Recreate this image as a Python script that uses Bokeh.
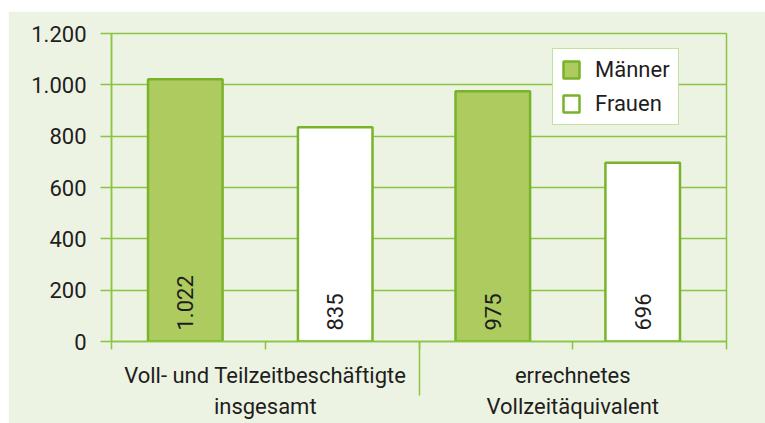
import math
from bokeh.plotting import figure
from bokeh.models import FixedTicker, ColumnDataSource, Range1d, Legend, LegendItem
from bokeh.core.properties import value
from bokeh.embed import file_html
from bokeh.resources import INLINE

# ---- data ----
categories = ["Voll- und Teilzeitbeschäftigte\ninsgesamt", "errechnetes\nVollzeitäquivalent"]
series = ["Männer", "Frauen"]
maenner = [1022, 975]
frauen = [835, 696]
maenner_labels = ["1.022", "975"]
frauen_labels = ["835", "696"]
y_ticks = [0, 200, 400, 600, 800, 1000, 1200]
y_tick_labels = ["0", "200", "400", "600", "800", "1.000", "1.200"]

FONT = "Roboto"
GREEN = "#78b32a"
GRID = "#8cc443"
FILL_M = "#adcb5f"
BG = "#edf3e2"
TXT = "#1e1e1e"

n = len(categories)
group_centers = [2 * i + 1 for i in range(n)]
x_m = [c - 0.52 for c in group_centers]
x_f = [c + 0.455 for c in group_centers]
bar_w = 0.485

p = figure(width=757, height=412, output_backend="svg", toolbar_location=None,
           x_range=Range1d(0, 2 * n), y_range=Range1d(0, 1200),
           min_border_left=103, min_border_right=39, min_border_top=22, min_border_bottom=82)
p.margin = (11, 0, 0, 8)
p.background_fill_color = BG
p.border_fill_color = BG
p.outline_line_color = GRID
p.outline_line_width = 1.5

src_m = ColumnDataSource(dict(x=x_m, top=maenner, lab=maenner_labels))
src_f = ColumnDataSource(dict(x=x_f, top=frauen, lab=frauen_labels))

r_m = p.vbar(x="x", top="top", width=bar_w, bottom=0, source=src_m,
             fill_color=FILL_M, line_color=GREEN, line_width=2.5)
r_f = p.vbar(x="x", top="top", width=bar_w, bottom=0, source=src_f,
             fill_color="white", line_color=GREEN, line_width=2.5)

for src in (src_m, src_f):
    p.text(x="x", y=0, text="lab", source=src, angle=math.pi / 2,
           text_align="left", text_baseline="middle", y_offset=-11,
           text_font=value(FONT), text_font_size="22px", text_color=TXT)

# axes
ticks_x = list(range(0, 2 * n + 1))
overrides = {t: "" for t in ticks_x}
for i, c in enumerate(categories):
    overrides[group_centers[i]] = c
seps = [2 * i for i in range(1, n)]

xa = p.xaxis[0]
xa.ticker = FixedTicker(ticks=ticks_x, minor_ticks=seps)
xa.major_label_overrides = overrides
xa.axis_line_color = GRID
xa.axis_line_width = 1.5
xa.major_tick_line_color = GRID
xa.major_tick_line_width = 1.5
xa.major_tick_in = 0
xa.major_tick_out = 8
xa.minor_tick_line_color = GRID
xa.minor_tick_line_width = 1.5
xa.minor_tick_in = 0
xa.minor_tick_out = 54
xa.major_label_standoff = -33
xa.major_label_text_font = FONT
xa.major_label_text_font_size = "22px"
xa.major_label_text_line_height = 1.27
xa.major_label_text_color = TXT
xa.major_label_orientation = "horizontal"

ya = p.yaxis[0]
ya.ticker = FixedTicker(ticks=y_ticks)
ya.major_label_overrides = {t: l for t, l in zip(y_ticks, y_tick_labels)}
ya.axis_line_color = GRID
ya.axis_line_width = 1.5
ya.major_tick_line_color = GRID
ya.major_tick_line_width = 1.5
ya.major_tick_in = 0
ya.major_tick_out = 11
ya.minor_tick_line_color = None
ya.major_label_standoff = 14
ya.major_label_text_font = FONT
ya.major_label_text_font_size = "22px"
ya.major_label_text_color = TXT

p.xgrid.visible = False
p.ygrid.ticker = FixedTicker(ticks=y_ticks)
p.ygrid.grid_line_color = GRID
p.ygrid.grid_line_width = 1.5

legend = Legend(items=[LegendItem(label=series[0], renderers=[r_m]),
                       LegendItem(label=series[1], renderers=[r_f])],
                location=(441, 216))
legend.background_fill_color = "white"
legend.background_fill_alpha = 1
legend.border_line_color = GRID
legend.border_line_width = 1.5
legend.label_text_font = FONT
legend.label_text_font_size = "22px"
legend.label_text_color = TXT
legend.glyph_width = 20
legend.glyph_height = 21
legend.label_height = 21
legend.label_standoff = 14
legend.spacing = 9
legend.padding = 8
legend.margin = 0
p.add_layout(legend, "center")

open("out.html", "w").write(file_html(p, INLINE))
